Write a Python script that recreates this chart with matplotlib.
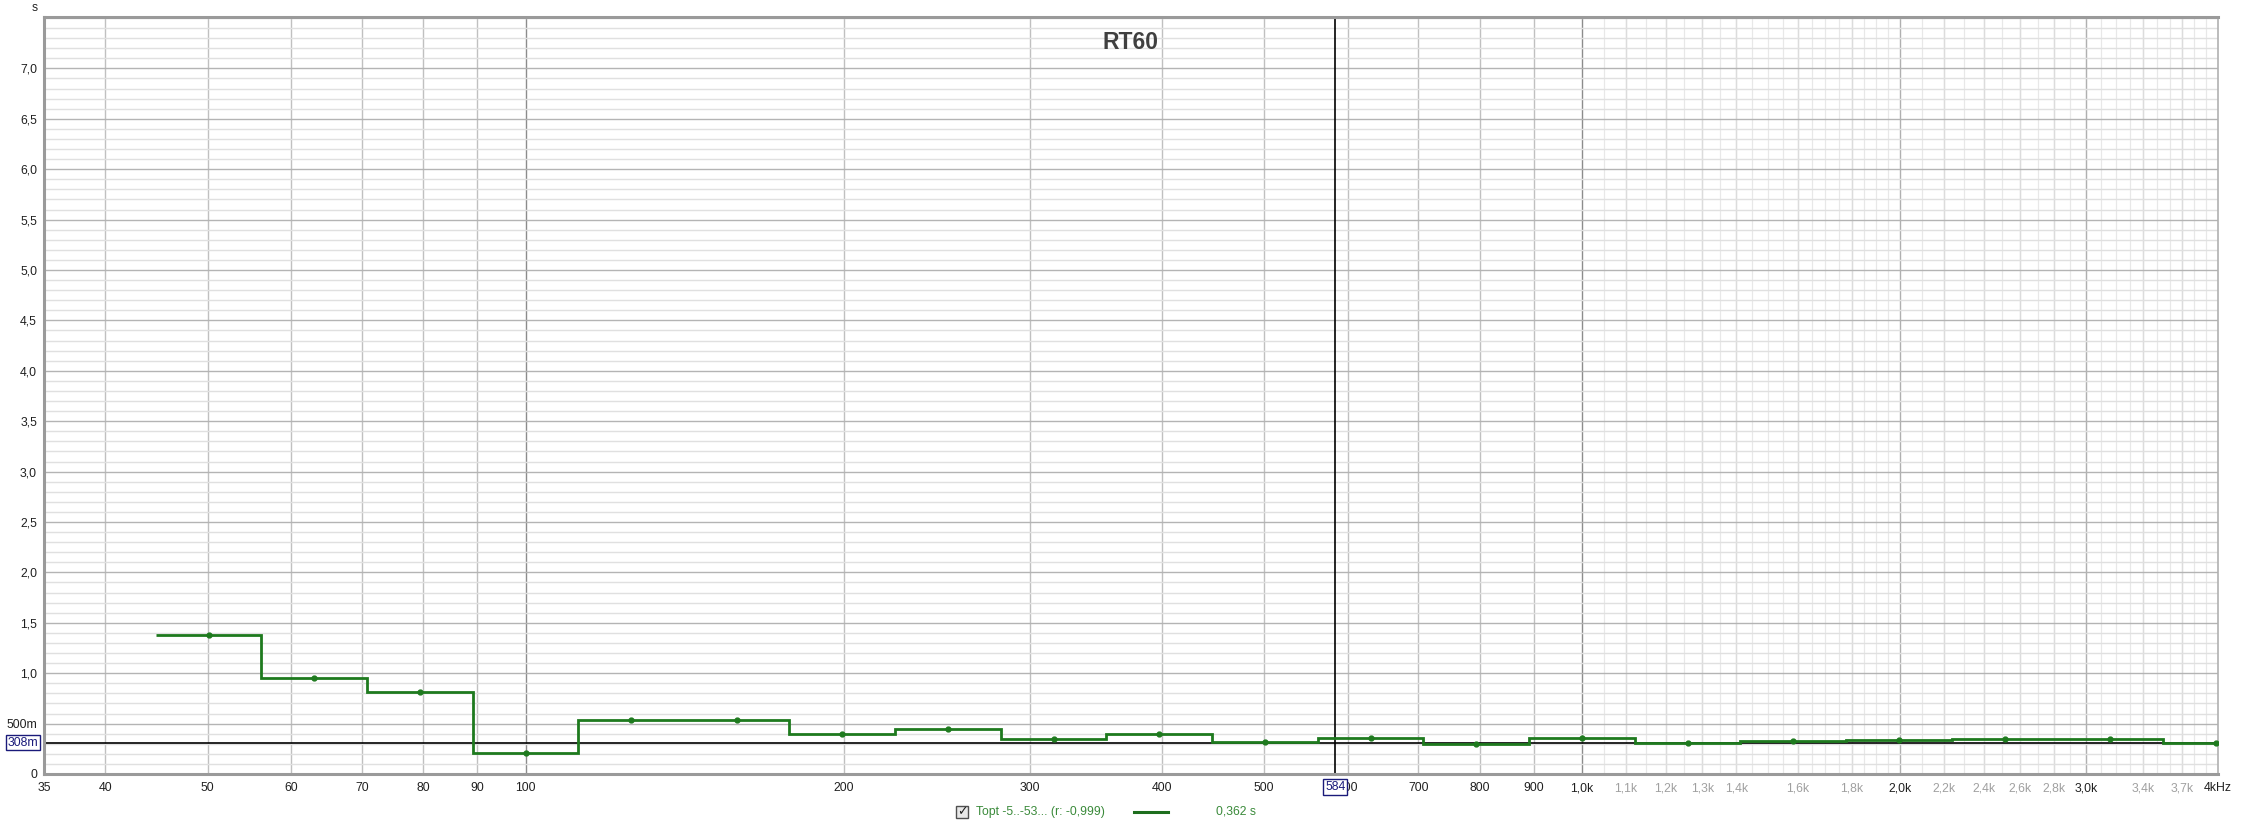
import matplotlib.pyplot as plt
import matplotlib.transforms as mtransforms
from matplotlib.patches import Rectangle
from matplotlib.ticker import NullLocator, NullFormatter, FixedLocator
import numpy as np

plt.rcParams['font.family'] = ['Liberation Sans', 'DejaVu Sans']

# third-octave band centres (Hz) and RT60 values (s)
bands = [50.1, 63.1, 79.4, 100, 125.9, 158.5, 199.5, 251.2, 316.2, 398.1,
         501.2, 631.0, 794.3, 1000, 1258.9, 1584.9, 1995.3, 2511.9, 3162.3, 3981.1]
rt60 = [1.38, 0.95, 0.81, 0.21, 0.54, 0.54, 0.395, 0.445, 0.35, 0.40,
        0.315, 0.362, 0.30, 0.36, 0.305, 0.325, 0.333, 0.345, 0.344, 0.31]

cursor_freq = 584
cursor_level = 0.308
legend_name = "Topt -5..-53... (r: -0,999)"
legend_value = "0,362 s"

xtick_vals = [35, 40, 50, 60, 70, 80, 90, 100, 200, 300, 400, 500, 600, 700, 800, 900,
              1000, 1100, 1200, 1300, 1400, 1600, 1800, 2000, 2200, 2400, 2600, 2800,
              3000, 3400, 3700, 4000]
xtick_text = ["35", "40", "50", "60", "70", "80", "90", "100", "200", "300", "400", "500",
              "600", "700", "800", "900", "1,0k", "1,1k", "1,2k", "1,3k", "1,4k", "1,6k",
              "1,8k", "2,0k", "2,2k", "2,4k", "2,6k", "2,8k", "3,0k", "3,4k", "3,7k", "4kHz"]
xtick_dim = ["1,1k", "1,2k", "1,3k", "1,4k", "1,6k", "1,8k", "2,2k", "2,4k", "2,6k",
             "2,8k", "3,4k", "3,7k"]
ytick_vals = np.arange(0, 7.01, 0.5)
ytick_text = ["0", "500m"] + [f"{v:.1f}".replace(".", ",") for v in ytick_vals[2:]]

W, H = 2241, 826
fig = plt.figure(figsize=(W / 100, H / 100), dpi=100)
L, R, T, B = 44, 2218, 17, 774
ax = fig.add_axes([L / W, 1 - B / H, (R - L) / W, (B - T) / H])
ax.set_xscale('log')
ax.set_xlim(35, 4000)
ax.set_ylim(0, 7.51)

# grid lines
ax.set_yticks(ytick_vals)
ax.set_yticklabels(ytick_text)
ax.yaxis.set_minor_locator(FixedLocator(np.arange(0, 7.51, 0.1)))
ax.grid(axis='y', which='major', color='#b4b4b4', lw=1.0, zorder=0)
ax.grid(axis='y', which='minor', color='#e0e0e0', lw=1.0, zorder=0)

fine = list(np.arange(1050, 2000, 50)) + list(np.arange(2100, 4000, 100))
for f in fine:
    ax.axvline(f, color='#e8e8e8', lw=0.9, zorder=0)
for f in xtick_vals[1:-1]:
    if f in (100, 1000):
        ax.axvline(f, color='#8c8c8c', lw=1.0, zorder=0.5)
    elif f in (2000, 3000):
        ax.axvline(f, color='#b0b0b0', lw=1.0, zorder=0.5)
    elif f < 1000:
        ax.axvline(f, color='#c0c0c0', lw=1.0, zorder=0.5)
    else:
        ax.axvline(f, color='#dcdcdc', lw=1.0, zorder=0.5)

ax.set_xticks(xtick_vals)
ax.set_xticklabels(xtick_text)
ax.xaxis.set_minor_locator(NullLocator())
ax.xaxis.set_minor_formatter(NullFormatter())
for lab in ax.get_xticklabels():
    lab.set_color('#a0a0a0' if lab.get_text() in xtick_dim else '#202020')
ax.tick_params(axis='both', which='both', length=0, labelsize=8.8)
ax.tick_params(axis='x', pad=6)
ax.tick_params(axis='y', pad=5, colors='#202020')

# frame
for side in ['left', 'bottom', 'top']:
    ax.spines[side].set_color('#9a9a9a')
    ax.spines[side].set_linewidth(2.2)
ax.spines['right'].set_color('#b0b0b0')
ax.spines['right'].set_linewidth(1.2)

# data: third-octave steps
edges = [b * 2 ** (-1 / 6) for b in bands] + [bands[-1] * 2 ** (1 / 6)]
ax.stairs(rt60, edges, color='#1e7a1e', lw=2.0, zorder=3, baseline=None)
ax.plot(bands, rt60, 'o', color='#1e7a1e', ms=3.5, zorder=4)

# cursors
ax.axhline(cursor_level, color='black', lw=1.2, zorder=2)
ax.axvline(cursor_freq, color='black', lw=1.2, zorder=2)

ytr = mtransforms.blended_transform_factory(fig.transFigure, ax.transData)
fig.text(23 / W, cursor_level, f"{cursor_level * 1000:.0f}m", transform=ytr,
         ha='center', va='center', fontsize=8.8, color='#1a1a7a', zorder=10,
         bbox=dict(boxstyle='square,pad=0.12', fc='white', ec='#1a1a7a', lw=1.0))
xtr = mtransforms.blended_transform_factory(ax.transData, fig.transFigure)
fig.text(cursor_freq, 1 - 787 / H, f"{cursor_freq}", transform=xtr,
         ha='center', va='center', fontsize=8.8, color='#1a1a7a', zorder=10,
         bbox=dict(boxstyle='square,pad=0.15', fc='white', ec='#1a1a7a', lw=1.0))

# title and unit
ax.text(0.5, 0.981, "RT60", transform=ax.transAxes, ha='center', va='top',
        fontsize=16.5, fontweight='bold', color='#404040')
fig.text(35 / W, 1 - 8 / H, "s", ha='center', va='center', fontsize=8.8, color='#202020')

# legend row
ly = 1 - 812 / H
fig.patches.append(Rectangle((956 / W, ly - 6 / H), 12 / W, 12 / H, transform=fig.transFigure,
                             fc='#e8e8e8', ec='#505050', lw=1.0))
fig.text(962 / W, ly, "\u2713", ha='center', va='center', fontsize=9, color='#202020',
         family='DejaVu Sans', fontweight='bold')
fig.text(976 / W, ly, legend_name, ha='left', va='center', fontsize=8.8, color='#3a8a3a')
fig.add_artist(plt.Line2D([1134 / W, 1168 / W], [ly, ly], color='#1e6e1e', lw=2.2))
fig.text(1216 / W, ly, legend_value, ha='left', va='center', fontsize=8.8, color='#3a8a3a')

fig.savefig('out.png', dpi=100, facecolor='white')
